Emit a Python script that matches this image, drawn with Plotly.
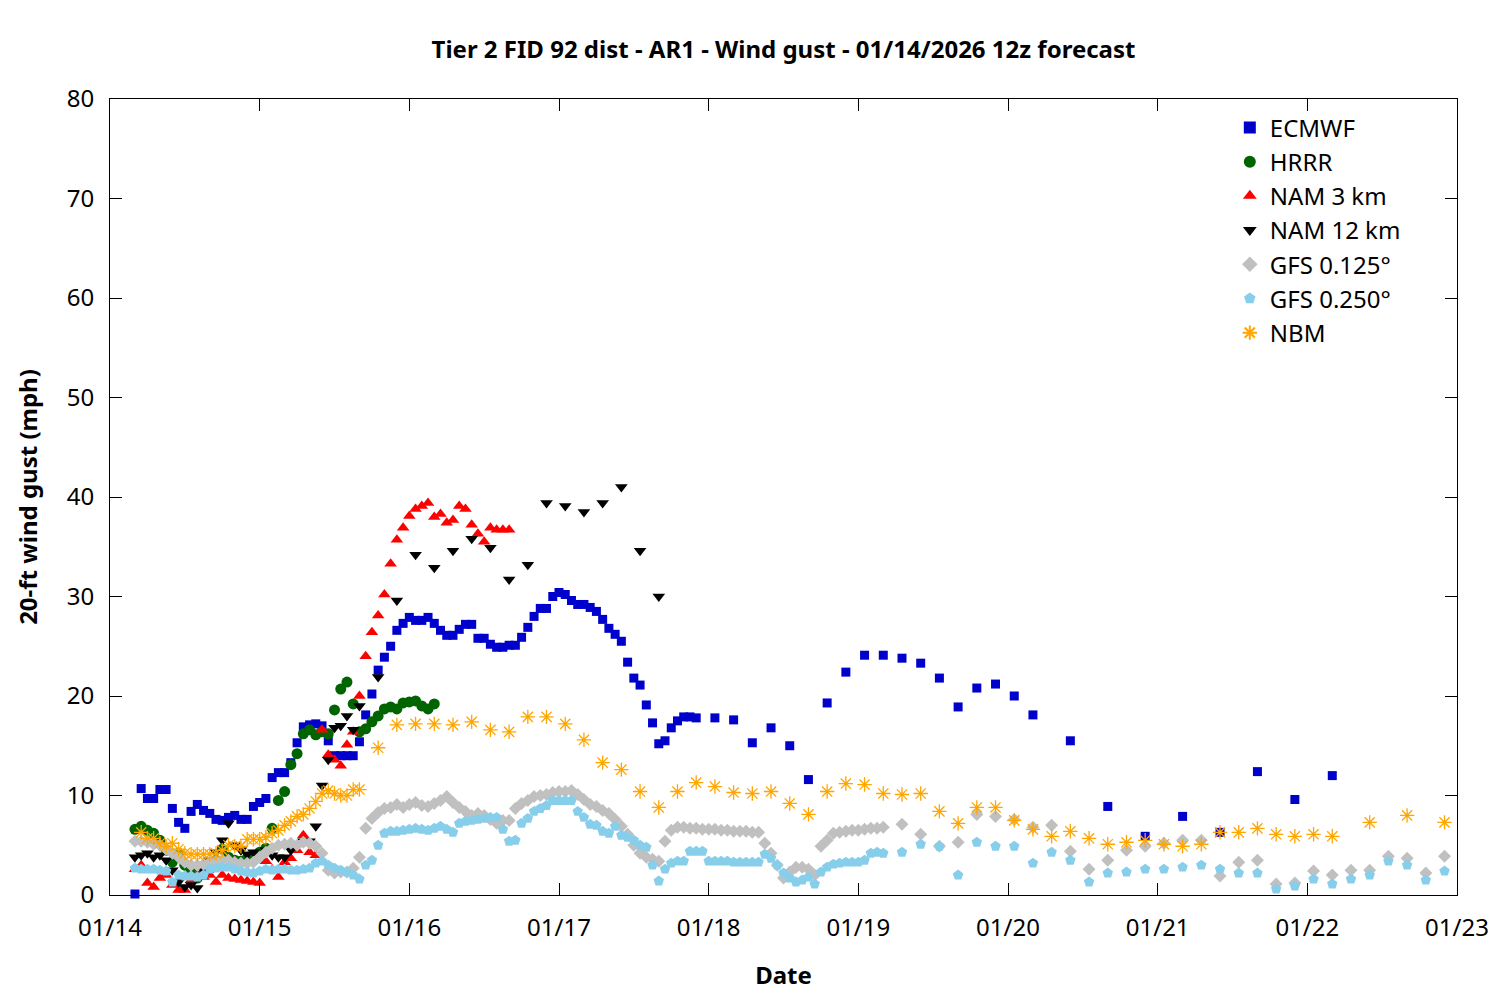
import pandas as pd
import plotly.graph_objects as go

# Forecast start (local time) and lead hours of each model
START = "2026-01-14 04:00"

ecmwf_lead = list(range(0, 91)) + list(range(93, 145, 3)) + list(range(150, 193, 6))
ecmwf_vals = [
    0.1, 10.7, 9.7, 9.7, 10.6, 10.6, 8.7, 7.3, 6.7, 8.4,
    9.1, 8.5, 8.2, 7.6, 7.5, 7.8, 8.0, 7.6, 7.6, 8.9,
    9.3, 9.7, 11.8, 12.3, 12.3, 13.3, 15.3, 16.9, 17.1, 17.2,
    17.0, 15.5, 14.0, 14.0, 14.0, 14.0, 15.4, 18.1, 20.2, 22.6,
    23.9, 25.0, 26.6, 27.3, 27.9, 27.6, 27.6, 27.9, 27.3, 26.6,
    26.1, 26.1, 26.7, 27.2, 27.2, 25.8, 25.8, 25.2, 24.9, 24.9,
    25.1, 25.1, 25.9, 26.9, 28.0, 28.8, 28.8, 30.0, 30.4, 30.2,
    29.6, 29.2, 29.2, 28.9, 28.5, 27.7, 26.8, 26.2, 25.5, 23.4,
    21.8, 21.1, 19.1, 17.3, 15.2, 15.5, 16.8, 17.5, 17.9, 17.9,
    17.8,
    17.8, 17.6, 15.3, 16.8, 15.0, 11.6, 19.3, 22.4, 24.1, 24.1,
    23.8, 23.3, 21.8, 18.9, 20.8, 21.2, 20.0, 18.1,
    15.5, 8.9, 5.9, 7.9, 6.3, 12.4, 9.6, 12.0,
]

hrrr_lead = list(range(0, 49))
hrrr_vals = [
    6.6, 6.9, 6.5, 6.2, 5.5, 4.5, 3.3, 4.2, 3.0, 2.6,
    1.7, 2.2, 2.6, 3.4, 4.6, 3.8, 3.5, 3.4, 3.7, 4.0,
    4.3, 4.7, 6.7, 9.5, 10.4, 13.1, 14.2, 16.2, 16.6, 16.1,
    16.4, 16.2, 18.6, 20.7, 21.4, 19.2, 16.4, 16.7, 17.4, 18.0,
    18.7, 18.9, 18.7, 19.3, 19.4, 19.5, 19.0, 18.7, 19.2,
]

nam3_lead = list(range(0, 61))
nam3_vals = [
    2.6, 3.0, 1.2, 0.8, 1.7, 2.0, 1.0, 0.5, 0.5, 1.5,
    2.0, 1.8, 2.0, 1.3, 2.0, 1.7, 1.6, 1.5, 1.4, 1.3,
    1.2, 3.4, 2.6, 1.8, 3.3, 3.7, 4.5, 6.0, 4.3, 4.0,
    16.6, 14.1, 13.6, 13.0, 15.1, 16.4, 20.0, 24.0, 26.4, 28.1,
    30.2, 33.3, 35.7, 36.9, 38.1, 38.8, 39.1, 39.4, 38.0, 38.3,
    37.4, 37.7, 39.1, 38.8, 37.2, 36.3, 35.5, 36.9, 36.7, 36.7,
    36.7,
]

nam12_lead = list(range(0, 37)) + list(range(39, 85, 3))
nam12_vals = [
    3.8, 4.0, 4.2, 3.8, 4.0, 3.5, 2.5, 1.3, 0.8, 1.0,
    0.7, 2.5, 3.5, 4.3, 5.5, 7.2, 5.0, 4.5, 4.1, 4.3,
    4.0, 4.5, 4.0, 3.8, 3.8, 4.5, 5.0, 5.4, 5.4, 6.9,
    11.0, 13.6, 16.8, 17.0, 18.0, 16.6, 19.0,
    21.9, 29.6, 34.2, 32.9, 34.6, 35.8, 34.9, 31.7, 33.2, 39.4,
    39.1, 38.5, 39.4, 41.0, 34.6, 30.0,
]

gfs_lead = list(range(0, 121)) + list(range(123, 211, 3))
gfs0125_vals = [
    5.4, 5.4, 5.3, 5.1, 5.0, 4.6, 4.2, 3.8, 3.3, 3.0,
    3.0, 3.1, 3.3, 3.4, 3.5, 3.5, 3.3, 3.2, 3.2, 3.3,
    3.8, 4.3, 4.7, 5.0, 5.1, 5.2, 5.0, 5.3, 5.2, 4.9,
    4.2, 2.5, 2.2, 2.3, 2.3, 2.7, 3.8, 6.7, 7.7, 8.3,
    8.7, 8.8, 9.1, 8.8, 9.1, 9.3, 9.0, 8.9, 9.2, 9.5,
    9.9, 9.3, 8.8, 8.4, 8.0, 8.2, 8.0, 7.6, 7.2, 7.5,
    7.5, 8.7, 9.2, 9.5, 9.9, 10.0, 10.1, 10.3, 10.4, 10.4,
    10.5, 10.1, 9.6, 9.1, 8.9, 8.5, 8.2, 7.6, 6.9, 6.1,
    5.0, 4.2, 3.8, 3.6, 3.4, 5.4, 6.5, 6.8, 6.8, 6.7,
    6.7, 6.6, 6.6, 6.6, 6.5, 6.5, 6.4, 6.4, 6.4, 6.3,
    6.3, 5.2, 4.2, 3.0, 1.7, 2.3, 2.8, 2.8, 2.6, 2.0,
    4.9, 5.5, 6.2, 6.3, 6.4, 6.5, 6.5, 6.6, 6.7, 6.7,
    6.8,
    7.1, 6.1, 4.9, 5.3, 8.1, 7.9, 7.6, 6.8, 7.0, 4.4,
    2.6, 3.5, 4.5, 4.9, 5.2, 5.5, 5.5, 1.9, 3.3, 3.5,
    1.1, 1.2, 2.4, 2.0, 2.5, 2.5, 3.9, 3.7, 2.2, 3.9,
]
gfs0250_vals = [
    2.7, 2.6, 2.6, 2.6, 2.5, 2.4, 1.3, 2.0, 1.9, 1.9,
    1.8, 2.0, 2.6, 2.7, 2.8, 2.8, 2.6, 2.4, 2.3, 2.2,
    2.4, 2.6, 2.5, 2.6, 2.6, 2.5, 2.5, 2.6, 2.7, 3.2,
    3.4, 3.0, 2.7, 2.5, 2.3, 2.0, 1.6, 3.0, 3.5, 5.0,
    6.2, 6.4, 6.4, 6.5, 6.6, 6.7, 6.6, 6.5, 6.7, 6.9,
    6.6, 6.3, 7.2, 7.4, 7.5, 7.6, 7.7, 7.8, 7.8, 6.6,
    5.4, 5.5, 7.2, 7.7, 8.4, 8.7, 9.0, 9.5, 9.5, 9.5,
    9.5, 8.4, 7.8, 7.1, 7.0, 6.4, 6.2, 6.9, 6.0, 5.8,
    5.5, 5.0, 4.8, 3.0, 1.4, 2.6, 3.2, 3.4, 3.4, 4.4,
    4.4, 4.4, 3.4, 3.4, 3.4, 3.4, 3.3, 3.3, 3.3, 3.3,
    3.3, 4.1, 3.7, 3.0, 2.2, 1.7, 1.3, 1.5, 1.8, 1.1,
    2.3, 2.8, 3.1, 3.2, 3.3, 3.3, 3.3, 3.5, 4.2, 4.3,
    4.2,
    4.3, 5.1, 4.9, 2.0, 5.3, 4.9, 4.9, 3.2, 4.3, 3.5,
    1.3, 2.2, 2.3, 2.6, 2.6, 2.8, 3.0, 2.6, 2.2, 2.2,
    0.6, 0.9, 1.6, 1.1, 1.6, 2.0, 3.4, 3.0, 1.5, 2.4,
]

nbm_lead = list(range(1, 37)) + list(range(39, 193, 3)) + list(range(198, 211, 6))
nbm_vals = [
    6.3, 5.7, 5.7, 5.2, 4.9, 5.2, 4.6, 4.2, 4.1, 4.1,
    4.1, 4.1, 4.2, 4.5, 5.0, 4.9, 4.9, 5.6, 5.6, 5.6,
    5.8, 6.2, 6.5, 7.0, 7.4, 7.9, 8.1, 8.7, 9.4, 10.2,
    10.5, 10.2, 10.0, 10.0, 10.6, 10.6,
    14.8, 17.1, 17.2, 17.2, 17.1, 17.4, 16.6, 16.4, 17.9, 17.9,
    17.2, 15.6, 13.3, 12.6, 10.4, 8.8, 10.4, 11.3, 10.9, 10.3,
    10.2, 10.4, 9.2, 8.1, 10.4, 11.2, 11.1, 10.2, 10.1, 10.2,
    8.4, 7.2, 8.8, 8.8, 7.5, 6.6, 5.9, 6.4, 5.7, 5.1,
    5.3, 5.5, 5.1, 4.9, 5.1, 6.3, 6.3, 6.7, 6.1, 5.9,
    6.1, 5.9,
    7.3, 8.0, 7.3,
]

x_tick_vals = ["2026-01-14", "2026-01-15", "2026-01-16", "2026-01-17", "2026-01-18",
               "2026-01-19", "2026-01-20", "2026-01-21", "2026-01-22", "2026-01-23"]
x_tick_text = ["01/14", "01/15", "01/16", "01/17", "01/18",
               "01/19", "01/20", "01/21", "01/22", "01/23"]
y_tick_vals = [0, 10, 20, 30, 40, 50, 60, 70, 80]


def times(lead):
    return pd.Timestamp(START) + pd.to_timedelta(lead, unit="h")


series = [
    ("ECMWF", ecmwf_lead, ecmwf_vals, dict(symbol="square", color="#0000cc", size=9)),
    ("HRRR", hrrr_lead, hrrr_vals, dict(symbol="circle", color="#006400", size=11)),
    ("NAM 3 km", nam3_lead, nam3_vals, dict(symbol="triangle-up", color="#ff0000", size=11)),
    ("NAM 12 km", nam12_lead, nam12_vals, dict(symbol="triangle-down", color="#000000", size=11)),
    ("GFS 0.125°", gfs_lead, gfs0125_vals, dict(symbol="diamond", color="#c0c0c0", size=10)),
    ("GFS 0.250°", gfs_lead, gfs0250_vals, dict(symbol="pentagon", color="#87ceeb", size=11)),
    ("NBM", nbm_lead, nbm_vals, dict(symbol="asterisk-open", color="#ffa500", size=12,
                                     line=dict(color="#ffa500", width=1.3))),
]

fig = go.Figure()
for name, lead, vals, mk in series:
    fig.add_trace(go.Scatter(x=times(lead), y=vals, mode="markers", name=name,
                             marker=mk, cliponaxis=False))

FONT = "Noto Sans"
FS = 24
fig.update_layout(
    width=1500, height=1000,
    paper_bgcolor="white", plot_bgcolor="white",
    margin=dict(l=102, r=51, t=91, b=113),
    font=dict(family=FONT, size=FS, color="black"),
    title=dict(text="<b>Tier 2 FID 92 dist - AR1 - Wind gust - 01/14/2026 12z forecast</b>",
               x=0.517, xanchor="center", y=0.958, yanchor="middle", yref="container",
               font=dict(family=FONT, size=FS)),
    showlegend=True,
    legend=dict(x=0.962, xanchor="right", y=0.992, yanchor="top",
                bgcolor="rgba(0,0,0,0)", font=dict(family=FONT, size=FS),
                itemsizing="constant"),
)
fig.update_xaxes(
    type="date", range=["2026-01-14", "2026-01-23"],
    tickvals=x_tick_vals, ticktext=x_tick_text,
    ticks="inside", ticklen=12, tickcolor="black", showline=True, linecolor="black",
    linewidth=1, mirror="ticks", showgrid=False, zeroline=False,
    ticklabelstandoff=11,
    tickfont=dict(family=FONT, size=FS),
    title=dict(text="<b>Date</b>", font=dict(family=FONT, size=FS), standoff=25),
)
fig.update_yaxes(
    range=[0, 80], tickvals=y_tick_vals,
    ticks="inside", ticklen=12, tickcolor="black", showline=True, linecolor="black",
    linewidth=1, mirror="ticks", showgrid=False, zeroline=False,
    ticklabelstandoff=10,
    tickfont=dict(family=FONT, size=FS),
    title=dict(text="<b>20-ft wind gust (mph)</b>", font=dict(family=FONT, size=FS), standoff=22),
)

fig.write_html("out.html")
